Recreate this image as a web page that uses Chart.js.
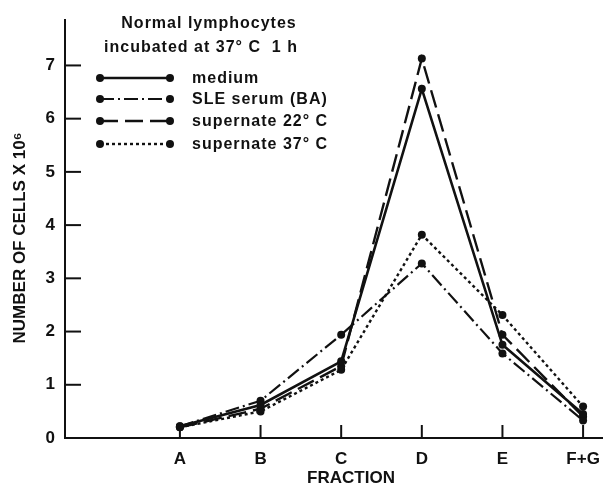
<!DOCTYPE html>
<html>
<head>
<meta charset="utf-8">
<script src="https://cdn.jsdelivr.net/npm/chart.js@4.4.1/dist/chart.umd.min.js"></script>
<style>
    html, body { margin: 0; padding: 0; background: #fff; }
    #wrap { width: 611px; height: 487px; }
</style>
</head>
<body>
<div id="wrap"><canvas id="fraction-chart" width="611" height="487"></canvas></div>
<script>
// Fractions along the x axis and cell counts (x 10^6)
const categories = ["A", "B", "C", "D", "E", "F+G"];
const medium = [0.22, 0.62, 1.44, 6.56, 1.75, 0.45];
const sleSerum = [0.22, 0.70, 1.94, 3.28, 1.59, 0.33];
const supernate22 = [0.20, 0.55, 1.35, 7.13, 1.94, 0.40];
const supernate37 = [0.20, 0.50, 1.28, 3.82, 2.31, 0.59];
const yTicks = [0, 1, 2, 3, 4, 5, 6, 7];

const legendTitle = ["Normal lymphocytes", "incubated at 37\u00B0 C  1 h"];
const yTitle = "NUMBER OF CELLS X 10\u2076";
const xTitle = "FRACTION";

const FONT = "'Liberation Sans', Arial, Helvetica, sans-serif";
const INK = "#111";

function toPoints(values) {
    return values.map((v, i) => ({ x: i, y: v }));
}

function makeDataset(label, values, dash, width) {
    return {
        label: label,
        data: toPoints(values),
        borderColor: INK,
        backgroundColor: INK,
        borderWidth: width,
        borderDash: dash,
        pointRadius: 4,
        pointBorderWidth: 0,
        pointBackgroundColor: INK,
        tension: 0,
        fill: false,
    };
}

// Inner tick marks, axis titles and the frameless legend of the original
const decorPlugin = {
    id: "decor",
    afterDraw(chart) {
        const ctx = chart.ctx;
        const x = chart.scales.x;
        const y = chart.scales.y;
        const area = chart.chartArea;

        ctx.save();
        ctx.strokeStyle = INK;
        ctx.lineWidth = 2;
        ctx.setLineDash([]);
        yTicks.slice(1).forEach(v => {
            const py = y.getPixelForValue(v);
            ctx.beginPath();
            ctx.moveTo(area.left, py);
            ctx.lineTo(area.left + 16, py);
            ctx.stroke();
        });
        categories.forEach((c, i) => {
            const px = x.getPixelForValue(i);
            ctx.beginPath();
            ctx.moveTo(px, area.bottom);
            ctx.lineTo(px, area.bottom - 13);
            ctx.stroke();
        });

        // axis titles
        ctx.fillStyle = INK;
        ctx.font = "bold 17px " + FONT;
        ctx.textAlign = "center";
        ctx.textBaseline = "middle";
        ctx.fillText(xTitle, 351, 478);
        ctx.save();
        ctx.translate(20, 238);
        ctx.rotate(-Math.PI / 2);
        ctx.fillText(yTitle, 0, 0);
        ctx.restore();

        // legend
        ctx.font = "bold 16px " + FONT;
        ctx.letterSpacing = "1px";
        ctx.fillText(legendTitle[0], 209, 24);
        ctx.fillText(legendTitle[1], 201, 48);
        ctx.textAlign = "left";
        const rows = [78, 99, 121, 144];
        chart.data.datasets.forEach((ds, i) => {
            const ry = rows[i];
            ctx.lineWidth = ds.borderWidth;
            ctx.setLineDash(ds.borderDash);
            ctx.beginPath();
            ctx.moveTo(100, ry);
            ctx.lineTo(170, ry);
            ctx.stroke();
            ctx.setLineDash([]);
            [100, 170].forEach(px => {
                ctx.beginPath();
                ctx.arc(px, ry, 4, 0, Math.PI * 2);
                ctx.fill();
            });
            ctx.fillText(ds.label, 192, ry + 1);
        });
        ctx.restore();
    }
};

function renderFractionChart() {
    const ctx = document.getElementById("fraction-chart").getContext("2d");

    new Chart(ctx, {
        type: "line",
        data: {
            datasets: [
                makeDataset("medium", medium, [], 2.6),
                makeDataset("SLE serum (BA)", sleSerum, [14, 4, 2, 4], 2.2),
                makeDataset("supernate 22\u00B0 C", supernate22, [18, 7], 2.4),
                makeDataset("supernate 37\u00B0 C", supernate37, [3, 3], 2.4),
            ]
        },
        options: {
            responsive: false,
            animation: false,
            layout: { padding: { top: 13, right: 0, left: 0, bottom: 0 } },
            plugins: {
                legend: { display: false },
                tooltip: { enabled: false },
            },
            scales: {
                x: {
                    type: "linear",
                    min: -1.425,
                    max: 5.244,
                    afterBuildTicks: scale => {
                        scale.ticks = categories.map((c, i) => ({ value: i }));
                    },
                    afterFit: scale => { scale.height = 49; },
                    grid: { display: false, drawTicks: false },
                    border: { display: true, color: INK, width: 2 },
                    ticks: {
                        color: INK,
                        padding: 11,
                        autoSkip: false,
                        maxRotation: 0,
                        font: { family: FONT, size: 17, weight: "bold" },
                        callback: v => categories[v],
                    },
                },
                y: {
                    min: 0,
                    max: 7.85,
                    afterBuildTicks: scale => {
                        scale.ticks = yTicks.map(v => ({ value: v }));
                    },
                    afterFit: scale => { scale.width = 65; },
                    grid: { display: false, drawTicks: false },
                    border: { display: true, color: INK, width: 2 },
                    ticks: {
                        color: INK,
                        padding: 10,
                        font: { family: FONT, size: 17, weight: "bold" },
                    },
                },
            },
        },
        plugins: [decorPlugin],
    });
}

document.addEventListener("DOMContentLoaded", renderFractionChart);
</script>
</body>
</html>
